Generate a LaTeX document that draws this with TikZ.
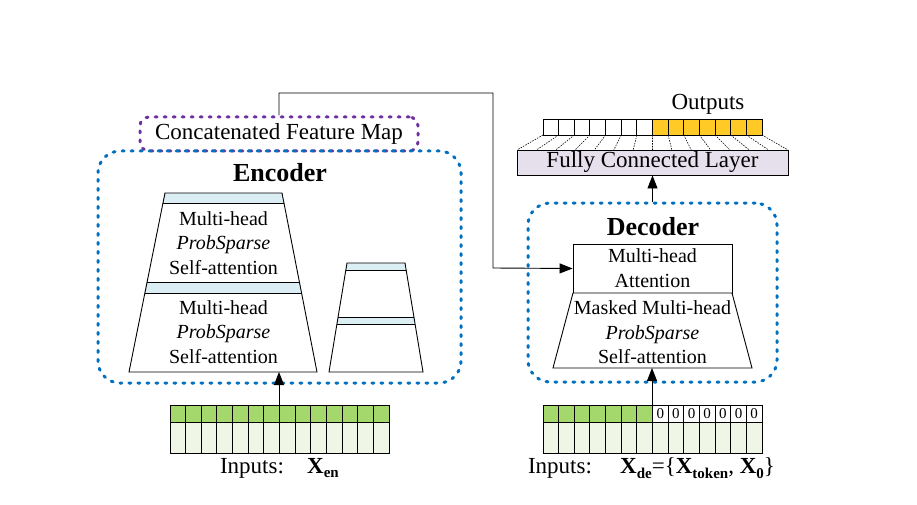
\documentclass[tikz,border=0pt]{standalone}
\usepackage{fontspec}
\setmainfont{Liberation Serif}
\usetikzlibrary{arrows.meta}
\definecolor{dotblue}{HTML}{0070C0}
\definecolor{dotpurple}{HTML}{7030A0}
\definecolor{barblue}{HTML}{DAEEF3}
\definecolor{fcfill}{HTML}{E6E0EC}
\definecolor{goldcell}{HTML}{FFC926}
\definecolor{greenA}{HTML}{A4D76C}
\definecolor{greenB}{HTML}{EFF6E6}
\newcommand\subtxt[1]{\raisebox{-4.5pt}{\fontsize{15}{15}\selectfont\textbf{#1}}}
\tikzset{
  dotbox/.style={draw=dotblue, line width=3pt, dash pattern=on 2pt off 7pt, line cap=round, rounded corners=22pt, inner sep=0pt},
  purplebox/.style={draw=dotpurple, line width=3pt, dash pattern=on 2pt off 7pt, line cap=round, rounded corners=9pt, inner sep=0pt},
  arr/.style={-{Triangle[length=13pt,width=10pt]}, line width=0.9pt},
  thinline/.style={line width=0.9pt},
  blocktext/.style={font=\fontsize{20}{24.5}\selectfont, align=center, inner sep=0pt},
  labeltext/.style={font=\fontsize{23}{27}\selectfont, inner sep=0pt},
  titletext/.style={font=\fontsize{26}{30}\selectfont\bfseries, inner sep=0pt},
  ghost/.style={inner sep=0pt, draw=none}
}
\begin{document}
\begin{tikzpicture}[x=1pt,y=-1pt]
\useasboundingbox (0,0) rectangle (917,505);
\fill[white] (0,0) rectangle (917,505);

% ---------- Encoder ----------
\node[purplebox, minimum width=278pt, minimum height=34pt] (cfm) at (279,134) {};
\node[labeltext] (cfmtext) at (279,134) {Concatenated Feature Map};
\node[dotbox, minimum width=363pt, minimum height=232pt] (enc) at (279.5,267) {};
\node[titletext] (enctitle) at (280,173) {Encoder};

% big trapezoid
\begin{scope}
  \clip (165,193) -- (282,193) -- (317,372) -- (129,372) -- cycle;
  \fill[white] (100,190) rectangle (330,375);
  \fill[barblue] (100,193) rectangle (330,203);
  \fill[barblue] (100,282) rectangle (330,293);
  \draw[thinline] (100,203) -- (330,203);
  \draw[thinline] (100,282) -- (330,282);
  \draw[thinline] (100,293) -- (330,293);
\end{scope}
\draw[thinline] (165,193) -- (282,193) -- (317,372) -- (129,372) -- cycle;
\coordinate (encbot) at (279,372);
\node[blocktext] (enc1) at (223.5,243) {Multi-head\\\textit{ProbSparse}\\Self-attention};
\node[blocktext] (enc2) at (223.5,332) {Multi-head\\\textit{ProbSparse}\\Self-attention};

% small trapezoid
\begin{scope}
  \clip (347,263) -- (405,263) -- (423,372) -- (329,372) -- cycle;
  \fill[white] (320,260) rectangle (430,375);
  \fill[barblue] (320,263) rectangle (430,270);
  \fill[barblue] (320,317) rectangle (430,324);
  \draw[thinline] (320,270) -- (430,270);
  \draw[thinline] (320,317) -- (430,317);
  \draw[thinline] (320,324) -- (430,324);
\end{scope}
\draw[thinline] (347,263) -- (405,263) -- (423,372) -- (329,372) -- cycle;

% encoder inputs
\foreach \i in {0,...,13} {
  \draw[thinline, fill=greenA] (170+\i*15.64,405) rectangle (170+\i*15.64+15.64,422);
  \draw[thinline, fill=greenB] (170+\i*15.64,422) rectangle (170+\i*15.64+15.64,453);
}
\node[ghost, minimum width=219pt, minimum height=48pt] (inen) at (279.5,429) {};
\draw[arr] (inen.north -| encbot) -- (encbot);
\node[labeltext] (inenlbl) at (252,468) {Inputs:};
\node[labeltext, anchor=west] (xen) at (307,468) {\textbf{X}\subtxt{en}};

% ---------- Decoder ----------
\node[dotbox, minimum width=249pt, minimum height=179pt] (dec) at (652.5,292.5) {};
\node[titletext] (dectitle) at (653,227) {Decoder};
\node[draw, thinline, fill=white, minimum width=159pt, minimum height=49pt, blocktext, font=\fontsize{20}{25}\selectfont] (att) at (652.5,268.5) {Multi-head\\Attention};
\draw[thinline, fill=white] (573,293) -- (732,293) -- (752,368) -- (553,368) -- cycle;
\coordinate (decbot) at (652,368);
\node[blocktext] (dec1) at (652.5,332.5) {Masked Multi-head\\\textit{ProbSparse}\\Self-attention};

% decoder inputs
\foreach \i in {0,...,13} {
  \draw[thinline, fill=greenB] (543+\i*15.64,422) rectangle (543+\i*15.64+15.64,453);
}
\foreach \i in {0,...,6} {
  \draw[thinline, fill=greenA] (543+\i*15.64,405) rectangle (543+\i*15.64+15.64,422);
}
\foreach \i in {7,...,13} {
  \draw[thinline, fill=white] (543+\i*15.64,405) rectangle (543+\i*15.64+15.64,422);
  \node[font=\fontsize{15}{15}\selectfont, inner sep=0pt] at (543+\i*15.64+7.82,413.5) {0};
}
\node[ghost, minimum width=219pt, minimum height=48pt] (inde) at (652.5,429) {};
\draw[arr] (inde.north -| decbot) -- (decbot);
\node[labeltext] (indelbl) at (560,468) {Inputs:};
\node[labeltext, anchor=west] (xde) at (620,468) {\textbf{X}\subtxt{de}={\{}\textbf{X}\subtxt{token}, \textbf{X}\subtxt{0}\}};

% fully connected + outputs
\node[draw, thinline, fill=fcfill, minimum width=271pt, minimum height=25pt, labeltext] (fc) at (652.5,162.5) {Fully Connected Layer};
\draw[arr] (dec.north -| fc.south) -- (fc.south);
\foreach \i in {0,...,6} {
  \draw[thinline, fill=white] (543+\i*15.64,119) rectangle (543+\i*15.64+15.64,135);
}
\foreach \i in {7,...,13} {
  \draw[thinline, fill=goldcell] (543+\i*15.64,119) rectangle (543+\i*15.64+15.64,135);
}
\node[ghost, minimum width=219pt, minimum height=16pt] (outs) at (652.5,127) {};
\foreach \i in {0,...,14} {
  \draw[line width=0.6pt, dash pattern=on 1.5pt off 1.2pt] (543+\i*15.64,135) -- (517+\i*19.36,150);
}
\node[labeltext] (outlbl) at (708,104) {Outputs};

% concatenated feature map -> decoder attention
\draw[arr] (cfm.north -| 279,0) -- (279,93) -- (493,93) -- (493,268) -- (att.west);
\end{tikzpicture}
\end{document}
